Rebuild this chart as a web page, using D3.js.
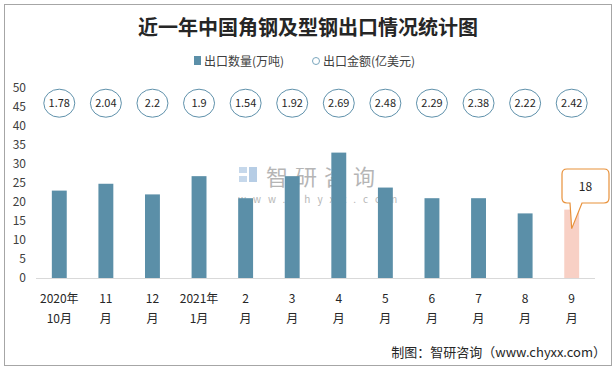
<!DOCTYPE html>
<html>
<head>
<meta charset="utf-8">
<script src="https://cdn.jsdelivr.net/npm/d3@7"></script>
<style>
  body { margin: 0; background: #fff; }
  svg { display: block; font-family: "Noto Sans CJK SC", "Noto Sans", sans-serif; }
</style>
</head>
<body>
<svg width="616" height="370"></svg>
<script>
// months along the axis (two-line labels)
const monthsTop = ['2020年', '11', '12', '2021年', '2', '3', '4', '5', '6', '7', '8', '9'];
const monthsBottom = ['10月', '月', '月', '1月', '月', '月', '月', '月', '月', '月', '月', '月'];
// export volume (10k tonnes)
const volume = [23, 24.8, 22, 26.8, 21, 26.8, 33, 23.8, 21, 21, 17, 18];
// export value (100m USD)
const amount = [1.78, 2.04, 2.2, 1.9, 1.54, 1.92, 2.69, 2.48, 2.29, 2.38, 2.22, 2.42];
const yTicks = [0, 5, 10, 15, 20, 25, 30, 35, 40, 45, 50];

const svg = d3.select('svg');
const barColor = '#5b8fa8';
const lastColor = '#f8d0c5';

// outer frame
svg.append('rect')
  .attr('x', 4.5).attr('y', 4.5)
  .attr('width', 607).attr('height', 361)
  .attr('fill', 'none')
  .attr('stroke', '#a6a6a6');

svg.append('text')
  .attr('x', 308).attr('y', 35)
  .attr('text-anchor', 'middle')
  .attr('font-size', 20)
  .attr('font-weight', 'bold')
  .attr('fill', '#262626')
  .text('近一年中国角钢及型钢出口情况统计图');

// legend
const legend = svg.append('g').attr('font-size', 12).attr('fill', '#404040');
legend.append('rect').attr('x', 194).attr('y', 56).attr('width', 7).attr('height', 9).attr('fill', barColor);
legend.append('text').attr('x', 204).attr('y', 65.5).text('出口数量(万吨)');
legend.append('circle').attr('cx', 316).attr('cy', 61).attr('r', 3.5)
  .attr('fill', 'none').attr('stroke', '#7aa6bd');
legend.append('text').attr('x', 323).attr('y', 65.5).text('出口金额(亿美元)');

const x = d3.scaleBand().domain(d3.range(12)).range([36, 595]).paddingInner(0.68).paddingOuter(0.34);
const y = d3.scaleLinear().domain([0, 50]).range([278, 88]);

// y axis labels only
const yAxis = svg.append('g')
  .attr('transform', 'translate(26,0)')
  .call(d3.axisLeft(y).tickValues(yTicks).tickSize(0).tickPadding(0));
yAxis.select('.domain').remove();
yAxis.selectAll('text').attr('font-size', 12).attr('fill', '#404040')
  .attr('font-family', '"Noto Sans CJK SC", sans-serif');

// watermark
const wm = svg.append('g').attr('opacity', 0.5);
wm.append('rect').attr('x', 239).attr('y', 167).attr('width', 8).attr('height', 6).attr('fill', '#8fb3d9');
wm.append('rect').attr('x', 239).attr('y', 176).attr('width', 8).attr('height', 6).attr('fill', '#8fb3d9');
wm.append('rect').attr('x', 249).attr('y', 167).attr('width', 8).attr('height', 15).attr('fill', '#6f9ccc');
wm.append('text').attr('x', 266).attr('y', 185).attr('font-size', 22).attr('fill', '#6e6e6e')
  .attr('letter-spacing', 7).text('智研咨询');
wm.append('text').attr('x', 238).attr('y', 203).attr('font-size', 10).attr('fill', '#6e6e6e')
  .attr('letter-spacing', 7).text('www.chyxx.com');

// bars
svg.append('g').selectAll('rect')
  .data(volume)
  .join('rect')
  .attr('x', (d, i) => x(i))
  .attr('y', d => y(d))
  .attr('width', x.bandwidth())
  .attr('height', d => y(0) - y(d))
  .attr('fill', (d, i) => i === volume.length - 1 ? lastColor : barColor);

// baseline
svg.append('line')
  .attr('x1', 36).attr('x2', 595)
  .attr('y1', 278.5).attr('y2', 278.5)
  .attr('stroke', '#d9d9d9');

// x labels
const xl = svg.append('g').attr('font-size', 12).attr('fill', '#262626').attr('text-anchor', 'middle');
xl.selectAll('.t1').data(monthsTop).join('text')
  .attr('x', (d, i) => x(i) + x.bandwidth() / 2).attr('y', 303).text(d => d);
xl.selectAll('.t2').data(monthsBottom).join('text')
  .attr('x', (d, i) => x(i) + x.bandwidth() / 2).attr('y', 323).text(d => d);

// amount bubbles
const bub = svg.append('g').selectAll('g')
  .data(amount)
  .join('g')
  .attr('transform', (d, i) => `translate(${x(i) + x.bandwidth() / 2},${y(46)})`);
bub.append('ellipse').attr('rx', 15.5).attr('ry', 14)
  .attr('fill', '#fff').attr('stroke', '#5f91ab');
bub.append('text').attr('text-anchor', 'middle').attr('y', 4)
  .attr('font-size', 11).attr('fill', '#262626').text(d => d);

// callout for the latest month
const li = volume.length - 1;
const cx = x(li) + x.bandwidth() / 2;
const tipY = y(volume[li]) + 19;
const bx0 = 562, bx1 = 609, by0 = 169, by1 = 203, r = 5;
const path = d3.path();
path.moveTo(bx0 + r, by0);
path.lineTo(bx1 - r, by0);
path.quadraticCurveTo(bx1, by0, bx1, by0 + r);
path.lineTo(bx1, by1 - r);
path.quadraticCurveTo(bx1, by1, bx1 - r, by1);
path.lineTo(582, by1);
path.lineTo(cx, tipY);
path.lineTo(570, by1);
path.lineTo(bx0 + r, by1);
path.quadraticCurveTo(bx0, by1, bx0, by1 - r);
path.lineTo(bx0, by0 + r);
path.quadraticCurveTo(bx0, by0, bx0 + r, by0);
path.closePath();
svg.append('path').attr('d', path.toString())
  .attr('fill', '#fff').attr('stroke', '#e8913a').attr('stroke-width', 1.2);
svg.append('text').attr('x', (bx0 + bx1) / 2).attr('y', 191)
  .attr('text-anchor', 'middle').attr('font-size', 12).attr('fill', '#262626')
  .text(volume[li]);

// source
svg.append('text')
  .attr('x', 606).attr('y', 357)
  .attr('text-anchor', 'end')
  .attr('font-size', 13)
  .attr('fill', '#262626')
  .text('制图：智研咨询（www.chyxx.com）');
</script>
</body>
</html>
